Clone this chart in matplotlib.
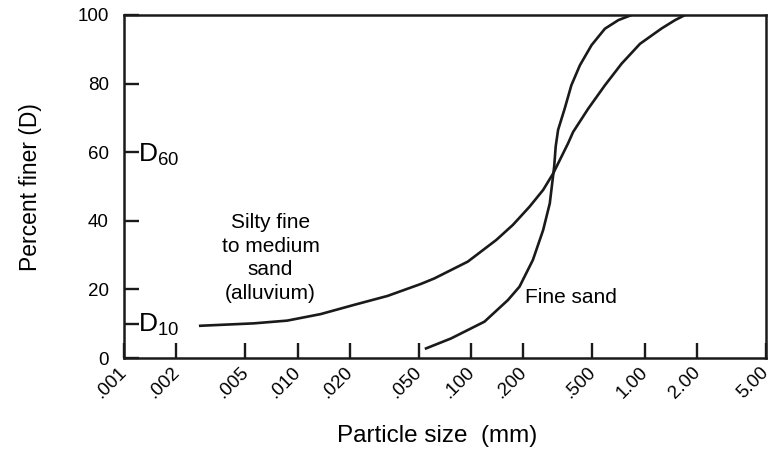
import numpy as np
import matplotlib
matplotlib.use('Agg')
import matplotlib.pyplot as plt
import matplotlib.transforms as mtransforms

plt.rcParams['font.family'] = ['Liberation Sans', 'DejaVu Sans']

# grain size curves: size (mm), percent finer
silty_size = [0.00275, 0.00559, 0.00871, 0.01358, 0.0212, 0.0330, 0.0514, 0.0614,
              0.0957, 0.1395, 0.174, 0.217, 0.260, 0.297, 0.362, 0.387, 0.473,
              0.590, 0.736, 0.940, 1.254, 1.496, 1.71]
silty_finer = [9.4, 10.1, 10.9, 12.8, 15.5, 18.1, 21.6, 23.2,
               28.1, 34.4, 38.8, 44.1, 49.0, 53.8, 62.6, 65.9, 72.7,
               79.5, 85.8, 91.6, 96.1, 98.5, 100.0]

fine_size = [0.0550, 0.0766, 0.1194, 0.163, 0.190, 0.227, 0.260, 0.284, 0.301,
             0.307, 0.317, 0.346, 0.378, 0.423, 0.494, 0.590, 0.705, 0.841]
fine_finer = [2.8, 5.7, 10.6, 16.9, 20.8, 28.6, 37.3, 45.1, 55.8,
              61.6, 66.5, 72.7, 79.5, 85.3, 91.2, 96.0, 98.5, 100.0]

xticks = [0.001, 0.002, 0.005, 0.010, 0.020, 0.050, 0.100, 0.200, 0.500, 1.00, 2.00, 5.00]
xticklabels = ['.001', '.002', '.005', '.010', '.020', '.050', '.100', '.200',
               '.500', '1.00', '2.00', '5.00']
yticks = [0, 10, 20, 40, 60, 80, 100]
yticklabels = ['0', '', '20', '40', '60', '80', '100']

ink = '#1a1a1a'

fig = plt.figure(figsize=(7.76, 4.61), dpi=100)
ax = fig.add_axes([0.1598, 0.2234, 0.8273, 0.7441])

ax.plot(silty_size, silty_finer, color=ink, lw=1.9, solid_joinstyle='round')
ax.plot(fine_size, fine_finer, color=ink, lw=1.9, solid_joinstyle='round')

ax.set_xscale('log')
ax.set_xlim(0.001, 5.0)
ax.set_ylim(0, 100)
ax.minorticks_off()
ax.set_xticks(xticks)
ax.set_yticks(yticks)
ax.tick_params(axis='both', direction='in', length=11, width=1.7, color=ink)
ax.tick_params(axis='y', pad=11)
ax.tick_params(axis='x', pad=4)
ax.set_xticklabels(xticklabels, rotation=45, ha='right', va='top',
                   rotation_mode='anchor', fontsize=13.5)
ax.set_yticklabels(yticklabels, fontsize=13.5)
# nudge the rotated labels a little left so the last one stays inside
shift = mtransforms.ScaledTranslation(-4 / 72, 0, fig.dpi_scale_trans)
for lab in ax.get_xticklabels():
    lab.set_transform(lab.get_transform() + shift)
for s in ax.spines.values():
    s.set_linewidth(1.8)
    s.set_color(ink)

ax.text(0.00121, 57.2, r'$\mathregular{D_{60}}$', fontsize=19, va='baseline', ha='left')
ax.text(0.00121, 7.7, r'$\mathregular{D_{10}}$', fontsize=19, va='baseline', ha='left')

ax.text(0.00698, 29.2, 'Silty fine\nto medium\nsand\n(alluvium)', fontsize=15,
        ha='center', va='center', linespacing=1.3)
ax.text(0.205, 17.5, 'Fine sand', fontsize=15, ha='left', va='center')

ax.set_ylabel('Percent finer (D)', fontsize=16.5)
ax.yaxis.set_label_coords(-0.128, 0.4985)
ax.set_xlabel('Particle size  (mm)', fontsize=17.5)
ax.xaxis.set_label_coords(0.487, -0.195)

fig.savefig('out.png', dpi=100)
plt.close(fig)
